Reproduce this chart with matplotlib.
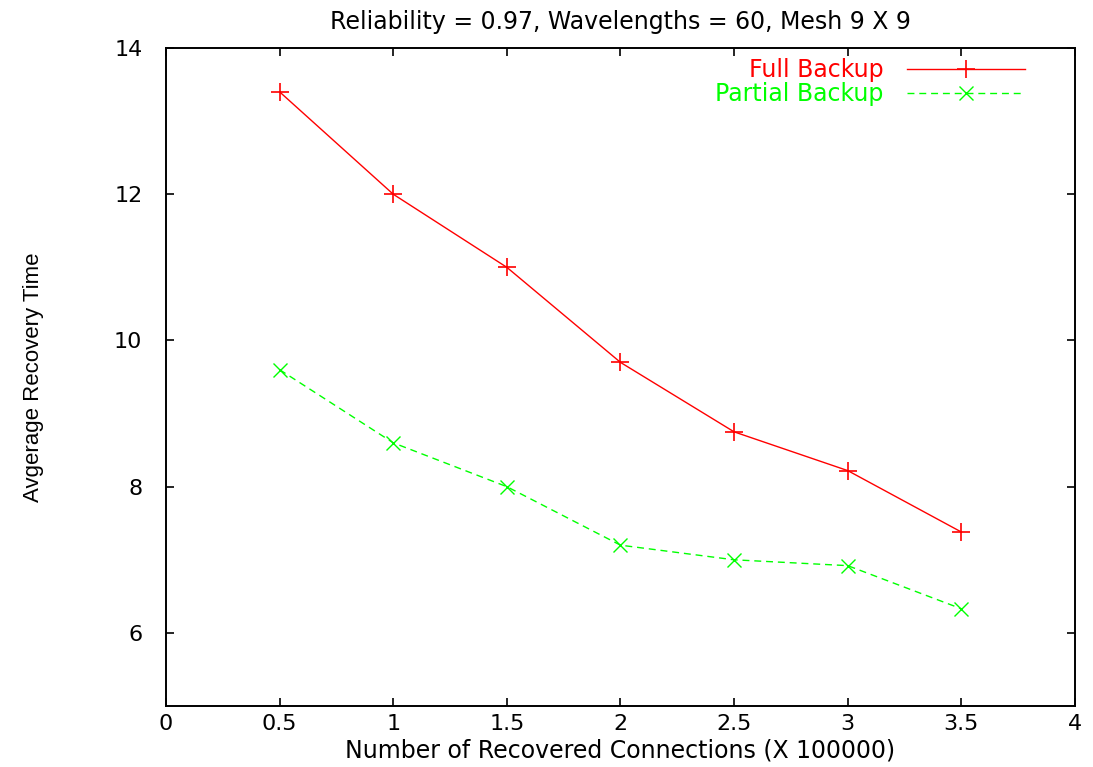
import matplotlib
matplotlib.use("Agg")
import matplotlib.pyplot as plt

# Recovery time vs. number of recovered connections (x 100000)
connections = [0.5, 1.0, 1.5, 2.0, 2.5, 3.0, 3.5]
full_backup = [13.4, 12.0, 11.0, 9.7, 8.75, 8.22, 7.38]
partial_backup = [9.6, 8.6, 8.0, 7.2, 7.0, 6.92, 6.33]

x_ticks = [0, 0.5, 1, 1.5, 2, 2.5, 3, 3.5, 4]
x_tick_labels = ["0", "0.5", "1", "1.5", "2", "2.5", "3", "3.5", "4"]
y_ticks = [6, 8, 10, 12, 14]

plt.rcParams["font.family"] = ["DejaVu Sans"]

fig = plt.figure(figsize=(10.93, 7.67), dpi=100)
ax = fig.add_axes([0.1519, 0.0795, 0.8316, 0.8579])

ax.plot(connections, full_backup, color="#ff0000", lw=1.0,
        marker="+", markersize=13, markeredgewidth=1.2, label="Full Backup")
ax.plot(connections, partial_backup, color="#00ff00", lw=1.0,
        linestyle=(0, (5, 3.5)), marker="x", markersize=10,
        markeredgewidth=1.0, label="Partial Backup")

ax.set_xlim(0, 4)
ax.set_ylim(5, 14)
ax.set_xticks(x_ticks)
ax.set_xticklabels(x_tick_labels)
ax.set_yticks(y_ticks)

ax.tick_params(direction="in", length=6, width=1.2, top=True, right=True,
               labelsize=16)
ax.tick_params(axis="x", pad=6)
ax.tick_params(axis="y", pad=17)
for s in ax.spines.values():
    s.set_linewidth(1.4)

ax.set_xlabel("Number of Recovered Connections (X 100000)", fontsize=17,
              labelpad=3)
ax.set_ylabel("Avgerage Recovery Time", fontsize=16,
              family=["Liberation Sans", "DejaVu Sans"])
ax.yaxis.set_label_coords(-0.134, 0.5)
ax.set_title("Reliability = 0.97, Wavelengths = 60, Mesh 9 X 9", fontsize=17,
             pad=14)

leg = ax.legend(loc="upper right", bbox_to_anchor=(0.945, 0.985),
                frameon=False, markerfirst=False, fontsize=17,
                handlelength=5.0, handletextpad=1.0, labelspacing=0.0,
                borderpad=0, borderaxespad=0)
for txt, col in zip(leg.get_texts(), ["#ff0000", "#00ff00"]):
    txt.set_color(col)

fig.savefig("out.png", dpi=100)
